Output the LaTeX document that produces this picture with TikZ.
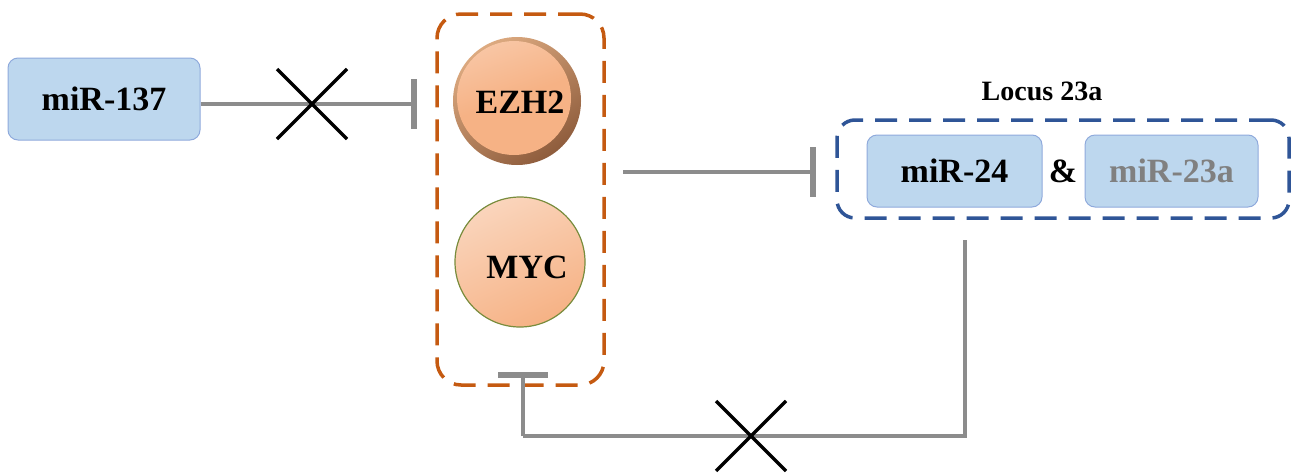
\documentclass[tikz,border=0pt]{standalone}
\usepackage{fontspec}
\setmainfont{Liberation Serif}
\usetikzlibrary{arrows.meta}
\definecolor{boxfill}{HTML}{BDD7EE}
\definecolor{boxdraw}{HTML}{8FAADC}
\definecolor{orgdash}{HTML}{C55A11}
\definecolor{bluedash}{HTML}{2F5597}
\definecolor{linegray}{HTML}{8C8C8C}
\definecolor{ballfill}{HTML}{F6B285}
\definecolor{rimdark}{HTML}{8E5C3C}
\definecolor{rimlight}{HTML}{DDAA80}
\definecolor{txtgray}{HTML}{808080}
\begin{document}
\begin{tikzpicture}[x=1pt,y=-1pt,
  mirbox/.style={draw=boxdraw,line width=1pt,fill=boxfill,rounded corners=10pt,
    font=\bfseries\fontsize{34}{40}\selectfont,inner sep=0pt},
  grpbox/.style={dashed,line width=3.5pt,rounded corners=24pt,dash pattern=on 22pt off 12pt,inner sep=0pt},
  inhib/.style={linegray,line width=3.5pt,-{Bar[width=50pt,line width=6pt]}},
  conn/.style={linegray,line width=3.5pt},
  crossline/.style={black,line width=3.5pt},
  balltext/.style={font=\bfseries\fontsize{34}{40}\selectfont}
]
\useasboundingbox (0,0) rectangle (1295,472);

% miR-137
\node[mirbox,minimum width=192pt,minimum height=82pt] (m137) at (104,99) {miR-137};

% orange group
\node[grpbox,draw=orgdash,minimum width=167pt,minimum height=371pt] (grp) at (520.5,199.5) {};

% EZH2 ball
\node[circle,minimum size=128pt,inner sep=0pt,shading=axis,top color=rimlight,bottom color=rimdark,shading angle=35] (ezhrim) at (517,101) {};
\node[circle,minimum size=114pt,inner sep=0pt,shading=axis,top color=ballfill!75!white,bottom color=ballfill,middle color=ballfill,shading angle=20] (ezhin) at (514,98) {};
\node[balltext] (ezh) at (520,102) {EZH2};

% MYC ball
\node[circle,minimum size=130pt,inner sep=0pt,draw={rgb,255:red,120;green,140;blue,60},line width=1.2pt,
  shading=axis,top color=ballfill!55!white,middle color=ballfill,bottom color=ballfill,shading angle=25] (mycball) at (520,262) {};
\node[balltext] (myc) at (527,267) {MYC};

% Locus 23a group
\node[font=\bfseries\fontsize{28}{33}\selectfont] (locus) at (1042,91) {Locus 23a};
\node[grpbox,draw=bluedash,rounded corners=18pt,minimum width=452pt,minimum height=98pt] (loc) at (1063,169) {};
\node[mirbox,minimum width=175pt,minimum height=72pt] (m24) at (954.5,171) {miR-24};
\node[font=\bfseries\fontsize{34}{40}\selectfont] (amp) at (1063,171) {\&};
\node[mirbox,minimum width=173pt,minimum height=72pt,text=txtgray] (m23) at (1171.5,171) {miR-23a};

% connectors
\coordinate (b1) at (417,104);
\draw[inhib] (m137.east |- b1) -- (b1);

\coordinate (s2) at (623,172);
\coordinate (b2) at (816,172);
\draw[inhib] (s2) -- (b2);

\coordinate (s3) at (965,240);
\coordinate (c3) at (965,436);
\coordinate (d3) at (523,436);
\coordinate (b3) at (523,372);
\draw[conn] (s3) -- (c3) -- (d3);
\draw[inhib] (d3) -- (b3);

% crosses
\coordinate (x1) at (312,104);
\draw[crossline] (x1) ++(-35,-35) -- ++(70,70);
\draw[crossline] (x1) ++(-35,35) -- ++(70,-70);
\coordinate (x2) at (751,436);
\draw[crossline] (x2) ++(-35,-35) -- ++(70,70);
\draw[crossline] (x2) ++(-35,35) -- ++(70,-70);
\end{tikzpicture}
\end{document}
